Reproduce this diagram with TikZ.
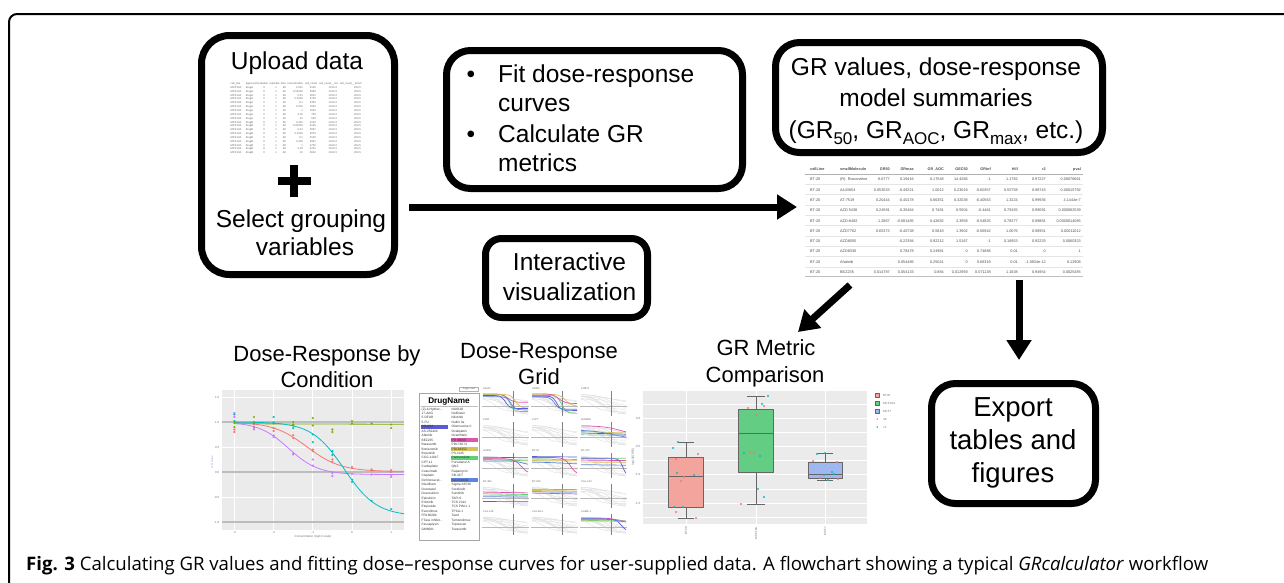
\documentclass[tikz,border=0pt]{standalone}
\usepackage{fontspec}
\setmainfont{Liberation Sans}
\newfontfamily\capfont{Open Sans}
\usetikzlibrary{arrows.meta}
\definecolor{ggred}{HTML}{F8766D}
\definecolor{ggolive}{HTML}{7CAE00}
\definecolor{ggcyan}{HTML}{00BFC4}
\definecolor{ggpurple}{HTML}{C77CFF}
\definecolor{panelgray}{HTML}{EBEBEB}
\definecolor{refline}{HTML}{BDBDBD}
\definecolor{hlblue}{HTML}{5B5BD6}
\definecolor{hlpink}{HTML}{DD55AE}
\definecolor{hlyellow}{HTML}{D6C357}
\definecolor{hlgreen}{HTML}{5CD274}
\definecolor{hlblue2}{HTML}{5C85E3}
\definecolor{boxpink}{HTML}{F3A49D}
\definecolor{boxgreen}{HTML}{63CD83}
\definecolor{boxblue}{HTML}{9FB8F2}
\definecolor{axlab}{HTML}{9DA7E8}
\newcommand\bxf{\fontsize{24.5}{29.5}\selectfont}
\newcommand\exf{\fontsize{27.5}{33}\selectfont}
\newcommand\ttlf{\fontsize{22}{26}\selectfont}
\newcommand\sbs[1]{\raisebox{-0.28em}{\fontsize{17}{17}\selectfont #1}}
\newcommand\tblf{\fontsize{3.8}{4.5}\selectfont}
\newcommand\upf{\fontsize{2.7}{3}\selectfont}
\newcommand\axf{\fontsize{3}{3.5}\selectfont}
\newcommand\drf{\fontsize{3.2}{3.6}\selectfont}
\newcommand\trdots{...}
\newcommand\gpanel[5]{%
  \foreach \pa/\pb/\pc/\pk in {0.15/0.75/0.35/8,0.2/0.9/0.5/9,0.1/0.6/0.6/7,0.25/0.85/0.25/9,0.2/0.5/0.8/6,0.15/0.95/0.45/9,0.3/0.7/0.7/8,0.1/0.4/0.55/5,0.2/1.0/0.65/9,0.25/0.65/0.4/6}{%
    \draw[gcurve] plot[domain=0:1,samples=14,variable=\t] ({#2+1+45*\t},{#3+5+(#4-6)*(\pa+(\pb-\pa)/(1+exp(min(9,max(-9,-\pk*(\t-\pc))))))});}
  \draw[black!28, line width=0.5pt] (#2,{#3+5+0.62*(#4-6)}) -- (#2+47,{#3+5+0.62*(#4-6)});
  \draw[black!50, line width=0.5pt] (#2+31,#3+4) -- (#2+31,#3+#4);
  \node[anchor=north west, inner sep=0pt, font=\fontsize{2.6}{3}\selectfont, text=black!60] (#1) at (#2+1,#3+0.8) {#5};
}
\newcommand\gsig[8]{\draw[#1, line width=0.7pt] plot[domain=0:1,samples=24,variable=\t] ({#2+1+45*\t},{#3+5+(#4-6)*(#5+(#6-#5)/(1+exp(min(9,max(-9,-#8*(\t-#7))))))});}
\tikzset{
  fbox/.style={draw, line width=7pt, rounded corners=#1, inner sep=0pt},
  fbox/.default=24pt,
  bigarrow/.style={line width=7pt, -{Triangle[length=20pt,width=24pt]}},
  txt/.style={anchor=base, inner sep=0pt},
  gcurve/.style={line width=0.4pt, draw=black!13},
  ticklbl/.style={inner sep=0pt, font=\axf, text=black!55},
}
\begin{document}
\begin{tikzpicture}[x=1pt, y=-1pt, line join=round]
\useasboundingbox (0,0) rectangle (1284,582);
% outer frame
\draw[line width=2pt, rounded corners=8pt] (9,600) -- (9,14) -- (1300,14);

% ---------- Box 1: upload ----------
\node[fbox=28pt, minimum width=193pt, minimum height=239pt] (upload) at (298,155) {};
\node[txt, font=\bxf] (upl1) at (297,69) {Upload data};
\node[inner sep=0pt, minimum width=135pt, minimum height=72pt] (uptbl) at (297.5,120) {};
\foreach \h/\xx in {cell\_line/230.5, agent/245.7, perturbation/253.5, replicate/269.3, time/280.6, concentration/286.8, cell\_count/304.8, cell\_count\_\_ctrl/318.8, cell\_count\_\_time0/339.6}
  \node[anchor=base west, inner sep=0pt, font=\upf, text=black!60] (uph\xx) at (\xx,84.5) {\h};
\foreach \conc/\cnt [count=\i] in {0.001/3100, 0.00316/3095, 0.01/3001, 0.0316/2790, 0.1/2305, 0.316/1520, 1/1003, 3.16/745, 10/520, 0.001/3150, 0.00316/3125, 0.01/3067, 0.0316/3075, 0.1/3130, 0.316/2967, 1/2750, 3.16/2731, 10/2622}{
  \pgfmathsetmacro\yy{84.5+3.85*\i}
  \pgfmathparse{\i<10 ? "drugA" : "drugB"}\let\ag\pgfmathresult
  \node[anchor=base west, inner sep=0pt, font=\upf, text=black!60] (upa\i) at (230.5,\yy) {MCF10A};
  \node[anchor=base west, inner sep=0pt, font=\upf, text=black!60] (upb\i) at (245.7,\yy) {\ag};
  \node[anchor=base east, inner sep=0pt, font=\upf, text=black!60] (upc\i) at (265,\yy) {0};
  \node[anchor=base east, inner sep=0pt, font=\upf, text=black!60] (upd\i) at (277,\yy) {1};
  \node[anchor=base east, inner sep=0pt, font=\upf, text=black!60] (upe\i) at (286,\yy) {48};
  \node[anchor=base east, inner sep=0pt, font=\upf, text=black!60] (upf\i) at (303,\yy) {\conc};
  \node[anchor=base east, inner sep=0pt, font=\upf, text=black!60] (upg\i) at (316,\yy) {\cnt};
  \node[anchor=base east, inner sep=0pt, font=\upf, text=black!60] (uph\i) at (337,\yy) {1013.3};
  \node[anchor=base east, inner sep=0pt, font=\upf, text=black!60] (upi\i) at (361,\yy) {204.5};
}
\draw[line width=7.5pt] (278,181) -- (311,181);
\draw[line width=7.5pt] (294,164.5) -- (294,197);
\node[txt, font=\bxf] (upl2) at (301,227) {Select grouping};
\node[txt, font=\bxf] (upl3) at (305,255) {variables};

% ---------- Box 2: fit ----------
\node[fbox, minimum width=296pt, minimum height=138pt] (fit) at (594.5,119.5) {};
\node[txt, font=\bxf] (b1) at (471,82) {•};
\node[txt, font=\bxf] (b2) at (471,142) {•};
\node[anchor=base west, inner sep=0pt, font=\bxf] (f1) at (498,82) {Fit dose-response};
\node[anchor=base west, inner sep=0pt, font=\bxf] (f2) at (498,111.5) {curves};
\node[anchor=base west, inner sep=0pt, font=\bxf] (f3) at (498,142) {Calculate GR};
\node[anchor=base west, inner sep=0pt, font=\bxf] (f4) at (498,171) {metrics};

% ---------- Box 3: interactive ----------
\node[fbox=16pt, minimum width=162pt, minimum height=79pt] (inter) at (566.5,278) {};
\node[txt, font=\bxf] (i1) at (569.5,270) {Interactive};
\node[txt, font=\bxf] (i2) at (569.5,300) {visualization};

% ---------- Box 4: GR values ----------
\node[fbox, minimum width=327pt, minimum height=110pt] (grv) at (939,97.5) {};
\node[txt, font=\bxf] (g1) at (936,75) {GR values, dose-response};
\node[txt, font=\bxf] (g2) at (936,106) {model summaries};
\node[txt, font=\bxf] (g3) at (936,138) {(GR\sbs{50}, GR\sbs{AOC}, GR\sbs{max}, etc.)};

% ---------- results table ----------
\node[inner sep=0pt, minimum width=276pt, minimum height=112pt] (tbl) at (945,221) {};
\draw[black!30, line width=0.6pt] (805,174) -- (1083,174);
\foreach \k in {1,...,9} \draw[black!10, line width=0.4pt] (805,{174+10.3*\k}) -- (1083,{174+10.3*\k});
\draw[black!25, line width=0.6pt] (805,276.5) -- (1083,276.5);
\foreach \h/\xx/\an [count=\j] in {cellLine/810/west, smallMolecule/840/west, GR50/890/east, GRmax/914/east, GR\_AOC/944/east, GEC50/968/east, GRinf/991/east, Hill/1018/east, r2/1046/east, pval/1081/east}
  \node[anchor=base \an, inner sep=0pt, font=\tblf\bfseries, text=black!70] (th\j) at (\xx,170.5) {\h};
\foreach \ca/\cb/\cc/\cd/\ce/\cf/\cg/\ch/\ci/\cj [count=\i] in {
  BT-20/(R)- Roscovitine/8.6777/0.19416/0.17548/14.4266/-1/1.1782/0.97227/0.00076661,
  BT-20/A443654/0.053033/-0.49221/1.0012/0.23019/-0.60357/0.55758/0.98743/0.00015792,
  BT-20/AT-7519/0.20444/-0.40178/0.86351/0.32038/-0.40563/1.3224/0.99936/4.1444e-7,
  BT-20/AZD 5438/0.24591/-0.35464/0.7481/0.5504/-0.4461/0.79155/0.99091/0.000082539,
  BT-20/AZD-6482/1.2867/-0.081485/0.42682/3.3958/-0.54825/0.78277/0.99881/0.0000014085,
  BT-20/AZD7762/0.65373/-0.40738/0.5818/1.3902/-0.56942/1.0076/0.98951/0.00011012,
  BT-20/AZD8055/ /-0.22394/0.92212/1.5167/-1/0.16953/0.92233/0.0060323,
  BT-20/AZD8330/ /0.78478/0.24981/0/0.74888/0.01/0/1,
  BT-20/Afatinib/ /0.054486/0.25041/0/0.68319/0.01/-1.0834e-12/0.12908,
  BT-20/BEZ235/0.014787/0.054133/0.884/0.012959/0.071138/1.1638/0.94954/0.0025485}{
  \pgfmathsetmacro\yy{170.5+10.3*\i}
  \node[anchor=base west, inner sep=0pt, font=\tblf, text=black!70] (ta\i) at (810,\yy) {\ca};
  \node[anchor=base west, inner sep=0pt, font=\tblf, text=black!70] (tb\i) at (840,\yy) {\cb};
  \node[anchor=base east, inner sep=0pt, font=\tblf, text=black!70] (tc\i) at (890,\yy) {\cc};
  \node[anchor=base east, inner sep=0pt, font=\tblf, text=black!70] (td\i) at (914,\yy) {\cd};
  \node[anchor=base east, inner sep=0pt, font=\tblf, text=black!70] (te\i) at (944,\yy) {\ce};
  \node[anchor=base east, inner sep=0pt, font=\tblf, text=black!70] (tf\i) at (968,\yy) {\cf};
  \node[anchor=base east, inner sep=0pt, font=\tblf, text=black!70] (tg\i) at (991,\yy) {\cg};
  \node[anchor=base east, inner sep=0pt, font=\tblf, text=black!70] (tq\i) at (1018,\yy) {\ch};
  \node[anchor=base east, inner sep=0pt, font=\tblf, text=black!70] (tr\i) at (1046,\yy) {\ci};
  \node[anchor=base east, inner sep=0pt, font=\tblf, text=black!70] (ts\i) at (1081,\yy) {\cj};
}

% ---------- Export box ----------
\node[fbox, minimum width=164pt, minimum height=120pt] (export) at (1013.5,443.5) {};
\node[txt, font=\exf] (e1) at (1013,416) {Export};
\node[txt, font=\exf] (e2) at (1013,449) {tables and};
\node[txt, font=\exf] (e3) at (1013,482) {figures};

% ---------- arrows ----------
\coordinate (m1) at (409,207);
\coordinate (m2) at (797,207);
\coordinate (d1) at (850,285);
\coordinate (d2) at (798,332);
\coordinate (v1) at (1019,280);
\coordinate (v2) at (1019,360);
\draw[bigarrow] (m1) -- (m2);
\draw[bigarrow] (d1) -- (d2);
\draw[bigarrow] (v1) -- (v2);

% ---------- titles ----------
\node[txt, font=\ttlf] (p1t1) at (327,361) {Dose-Response by};
\node[txt, font=\ttlf] (p1t2) at (327,387) {Condition};
\node[txt, font=\ttlf] (p2t1) at (539,358) {Dose-Response};
\node[txt, font=\ttlf] (p2t2) at (539,384) {Grid};
\node[txt, font=\ttlf] (p3t1) at (766,355) {GR Metric};
\node[txt, font=\ttlf] (p3t2) at (765,382) {Comparison};

% ---------- Plot 1: dose-response by condition ----------
\fill[panelgray] (222,390) rectangle (404,530);
\foreach \yy in {397,447,497} \draw[white, line width=0.8pt] (222,\yy) -- (404,\yy);
\foreach \xx in {234.4,273.6,312.8,352,391.2} \draw[white, line width=0.8pt] (\xx,390) -- (\xx,530);
\foreach \yy in {422,472,522} \draw[refline, line width=2.2pt] (222,\yy) -- (404,\yy);
\begin{scope}[shift={(352,472)}, x=39.2pt, y=50pt]
  \draw[ggolive, line width=0.8pt] (-3,0.965) -- (1.33,0.955);
  \draw[ggred, line width=0.8pt] plot[domain=-3:1.33, samples=50] (\x, {0.01+0.99/(1+exp(2.302585*1.01*(\x+1.15)))});
  \draw[ggpurple, line width=0.8pt] plot[domain=-3:1.33, samples=50] (\x, {-0.05+1.05/(1+exp(2.302585*1.15*(\x+1.62)))});
  \draw[ggcyan, line width=0.8pt] plot[domain=-3:1.33, samples=60] (\x, {-0.88+1.88/(1+exp(2.302585*1.05*(\x+0.2)))});
  \foreach \px/\py in {-3/0.98,-3/0.9,-2.5/1.1,-2.5/1.0,-2/0.97,-1.5/1.0,-1.5/0.95,-1/1.08,-1/0.93,-0.5/0.85,-0.5/0.8,0/1.02,0/0.97,0.5/0.97,1/0.95,1/0.88}
    \fill[ggolive] (\px,\py) circle (1.2pt);
  \foreach \px/\py in {-3/0.85,-3/0.8,-2.5/0.95,-2.5/0.9,-2/0.88,-2/0.82,-1.5/0.74,-1.5/0.68,-1/0.42,-1/0.45,-0.5/0.2,-0.5/0.25,0/0.08,0/0.1,0.5/0.03,0.5/0.05,1/0.04,1/0.0}
    \fill[ggred] (\px,\py) circle (1.2pt);
  \foreach \px/\py in {-3/1.18,-3/1.1,-2.5/0.88,-2.5/0.85,-2/0.73,-2/0.7,-1.5/0.37,-1.5/0.35,-1/0.13,-1/0.25,-0.5/-0.02,-0.5/-0.08,0/-0.04,0.5/-0.05,1/-0.06,1/-0.1}
    \fill[ggpurple] (\px,\py) circle (1.2pt);
  \foreach \px/\py in {-3/1.02,-3/1.15,-2.5/0.97,-2/1.1,-2/0.99,-1.5/0.93,-1.5/0.88,-1/0.75,-1/0.6,-0.5/0.34,-0.5/0.42,0/-0.15,0/-0.2,0.5/-0.58,1/-0.74}
    \fill[ggcyan] (\px,\py) circle (1.2pt);
\end{scope}
\foreach \lb/\yy [count=\j] in {1.5/397,1.0/422,0.5/447,0.0/472,-0.5/497,-1.0/522}
  \node[ticklbl, anchor=east] (p1y\j) at (219.5,\yy) {\lb};
\foreach \lb/\xx [count=\j] in {-3/234.4,-2/273.6,-1/312.8,0/352,1/391.2}
  \node[ticklbl, anchor=north] (p1x\j) at (\xx,531.5) {\lb};
\node[ticklbl, anchor=north] (p1xl) at (313,535.5) {Concentration (log10 scale)};
\node[ticklbl, rotate=90, text=axlab] (p1yl) at (212,462) {GR value};

% ---------- Plot 2: dose-response grid ----------
\draw[black!35, line width=0.5pt] (419,393) rectangle (479,540);
\node[txt, font=\fontsize{8.2}{9}\selectfont\bfseries] (dnh) at (449,403) {DrugName};
\draw[black!25, line width=0.4pt] (420.5,406) -- (477.5,406);
\fill[hlblue] (420.5,{410+4*4.45-3.2}) rectangle (447.5,{410+4*4.45+1});
\fill[hlpink] (450.5,{410+7*4.45-3.2}) rectangle (478,{410+7*4.45+1});
\fill[hlyellow] (450.5,{410+9*4.45-3.2}) rectangle (478,{410+9*4.45+1});
\fill[hlgreen] (450.5,{410+11*4.45-3.2}) rectangle (478,{410+11*4.45+1});
\fill[hlblue2] (450.5,{410+16*4.45-3.2}) rectangle (478,{410+16*4.45+1});
\foreach \n [count=\i] in {{(Z)-4-Hydrox\trdots},17-AAG,5-DFUR,5-FU,AG1024,AS-252424,Afatinib,BEZ235,Barasertib,Bortezomib,Bosutinib,CGC-11047,CPT-11,Carboplatin,Cetuximab,Cisplatin,{Dichloroacet\trdots},Disulfiram,Docetaxel,Doxorubicin,Epirubicin,Erlotinib,Etoposide,Everolimus,FR180204,{FTase inhibit\trdots},Fascaplysin,GM6001}
  \node[anchor=base west, inner sep=0pt, font=\drf, text=black!80] (dra\i) at (421.5,{410+(\i-1)*4.45}) {\n};
\foreach \n [count=\i] in {NU6102,Nelfinavir,Nilotinib,Nutlin 3a,Olomoucine II,Oxaliplatin,Oxamflatin,PD 98059,PD173074,PD184352,PS-1145,Parthenolide,Purvalanol A,QNZ,Rapamycin,SB-3CT,Selumetinib,Sigma A6730,Sorafenib,Sunitinib,TAPI-0,TCS 2312,TCS PIM-1 1,TPCA-1,Taxol,Temsirolimus,Topotecan,Tozasertib}
  \node[anchor=base west, inner sep=0pt, font=\drf, text=black!80] (drb\i) at (451.5,{410+(\i-1)*4.45}) {\n};
\draw[black!30, line width=0.3pt] (459,386.8) rectangle (478.5,391.3);
\node[inner sep=0pt, font=\fontsize{2.4}{2.6}\selectfont, text=black!60] (tog) at (468.8,389) {Toggle view};
\gpanel{gp11}{482}{387}{29}{184A1}
\gpanel{gp12}{531}{387}{29}{184B5}
\gpanel{gp13}{580}{387}{29}{21MT1}
\gpanel{gp21}{482}{418}{29}{21NT}
\gpanel{gp22}{531}{418}{29}{21PT}
\gpanel{gp23}{580}{418}{29}{600MPE}
\gpanel{gp31}{482}{449}{29}{AU565}
\gpanel{gp32}{531}{449}{29}{BT-20}
\gpanel{gp33}{580}{449}{29}{BT-474}
\gpanel{gp41}{482}{480}{28}{BT-483}
\gpanel{gp42}{531}{480}{28}{BT-549}
\gpanel{gp43}{580}{480}{28}{CAL-120}
\gpanel{gp51}{482}{510}{25}{CAL-148}
\gpanel{gp52}{531}{510}{25}{CAL-85-1}
\gpanel{gp53}{580}{510}{25}{CAMA-1}
% colored curves
\gsig{hlgreen}{482}{387}{29}{0.12}{0.85}{0.6}{22}
\gsig{hlpink}{482}{387}{29}{0.08}{0.45}{0.55}{15}
\gsig{hlyellow}{482}{387}{29}{0.1}{0.7}{0.72}{18}
\gsig{hlblue}{482}{387}{29}{0.15}{0.72}{0.5}{20}
\gsig{hlblue2}{482}{387}{29}{0.2}{0.78}{0.62}{20}
\gsig{hlgreen}{531}{387}{29}{0.15}{0.92}{0.66}{20}
\gsig{hlblue}{531}{387}{29}{0.18}{0.8}{0.55}{22}
\gsig{hlyellow}{531}{387}{29}{0.1}{0.62}{0.75}{15}
\gsig{hlpink}{531}{387}{29}{0.08}{0.5}{0.6}{14}
\gsig{hlblue2}{531}{387}{29}{0.22}{0.75}{0.5}{20}
\gsig{hlyellow}{580}{418}{29}{0.35}{0.45}{0.5}{3}
\gsig{hlpink}{580}{418}{29}{0.12}{0.55}{0.9}{5}
\gsig{hlblue2}{580}{418}{29}{0.3}{0.7}{0.7}{4}
\gsig{hlgreen}{580}{418}{29}{0.5}{0.55}{0.5}{2}
\gsig{hlblue}{580}{418}{29}{0.42}{0.5}{0.5}{3}
\gsig{hlblue}{482}{449}{29}{0.12}{0.18}{0.5}{2}
\gsig{hlgreen}{482}{449}{29}{0.22}{0.32}{0.6}{3}
\gsig{hlyellow}{482}{449}{29}{0.18}{0.28}{0.5}{3}
\gsig{hlpink}{482}{449}{29}{0.2}{0.88}{0.85}{12}
\gsig{hlblue2}{482}{449}{29}{0.3}{0.5}{0.9}{10}
\gsig{hlblue}{531}{449}{29}{0.1}{0.14}{0.5}{2}
\gsig{hlgreen}{531}{449}{29}{0.2}{0.25}{0.5}{2}
\gsig{hlyellow}{531}{449}{29}{0.28}{0.3}{0.5}{2}
\gsig{hlpink}{531}{449}{29}{0.15}{0.92}{0.86}{14}
\gsig{hlblue2}{531}{449}{29}{0.35}{0.45}{0.7}{4}
\gsig{hlgreen}{580}{449}{29}{0.15}{0.2}{0.5}{2}
\gsig{hlpink}{580}{449}{29}{0.25}{0.3}{0.5}{2}
\gsig{hlblue}{580}{449}{29}{0.2}{0.95}{0.93}{25}
\gsig{hlblue2}{580}{449}{29}{0.45}{0.5}{0.5}{2}
\gsig{hlyellow}{580}{449}{29}{0.35}{0.36}{0.5}{2}
\gsig{hlpink}{482}{480}{28}{0.3}{0.38}{0.5}{2}
\gsig{hlgreen}{482}{480}{28}{0.38}{0.45}{0.5}{2}
\gsig{hlyellow}{482}{480}{28}{0.45}{0.5}{0.5}{2}
\gsig{hlblue2}{482}{480}{28}{0.52}{0.56}{0.5}{2}
\gsig{hlblue}{482}{480}{28}{0.75}{0.76}{0.5}{2}
\gsig{hlgreen}{531}{480}{28}{0.18}{0.22}{0.5}{2}
\gsig{hlyellow}{531}{480}{28}{0.24}{0.28}{0.5}{2}
\gsig{hlblue2}{531}{480}{28}{0.3}{0.33}{0.5}{2}
\gsig{hlpink}{531}{480}{28}{0.36}{0.42}{0.6}{3}
\gsig{hlpink}{580}{510}{25}{0.15}{0.35}{0.8}{8}
\gsig{hlgreen}{580}{510}{25}{0.25}{0.35}{0.5}{2}
\gsig{hlblue}{580}{510}{25}{0.2}{0.9}{0.9}{15}
\gsig{hlyellow}{580}{510}{25}{0.3}{0.34}{0.5}{2}
\gsig{hlblue2}{580}{510}{25}{0.22}{0.4}{0.85}{10}

% ---------- Plot 3: GR metric comparison ----------
\fill[panelgray] (643,391) rectangle (867,524);
\foreach \yy in {404,432,460,489,517} \draw[white, line width=0.35pt] (643,\yy) -- (867,\yy);
\foreach \yy in {418,446,474,503} \draw[white, line width=0.8pt] (643,\yy) -- (867,\yy);
\foreach \xx in {686,756,825} \draw[white, line width=0.8pt] (\xx,391) -- (\xx,524);
\begin{scope}[black!60, line width=0.8pt]
  \draw (686,442) -- (686,518) (678,442) -- (694,442) (678,518) -- (694,518);
  \filldraw[fill=boxpink] (668,457) rectangle (703,507);
  \draw[line width=1pt] (668,476) -- (703,476);
  \draw (756,396) -- (756,504) (747,396) -- (765,396) (747,504) -- (765,504);
  \filldraw[fill=boxgreen] (738,409) rectangle (773,472);
  \draw[line width=1pt] (738,433) -- (773,433);
  \draw (825,453) -- (825,480) (817,453) -- (833,453) (817,480) -- (833,480);
  \filldraw[fill=boxblue] (808,462) rectangle (842,478);
  \draw[line width=1pt] (808,474) -- (842,474);
\end{scope}
\foreach \px/\py in {678/442,673/448,677/473,694/475,674/507,683/507,762/404,744/453,760/456,758/489,764/497,768/396,817/454,825/453,832/472,834/474,828/480,824/475}
  \fill[ggcyan] (\px,\py) circle (1.2pt);
\foreach \px/\py in {698/454,676/459,684/477,681/481,676/512,696/518,748/408,756/415,750/452,754/453,741/504,764/406,813/461,837/462,820/478,838/479}
  \fill[ggred] (\px,\py) circle (1.2pt);
\foreach \lb/\yy [count=\j] in {0.0/418,-0.5/446,-1.0/474,-1.5/503}
  \node[ticklbl, anchor=east] (p3y\j) at (640.5,\yy) {\lb};
\node[ticklbl, rotate=90] (p3yl) at (633,457) {log10(GR50)};
\foreach \lb/\xx [count=\j] in {BT20/686,MCF10A/756,MCF7/825}
  \node[ticklbl, rotate=90, anchor=east] (p3x\j) at (\xx,527) {\lb};
\filldraw[fill=boxpink, draw=black!60, line width=0.4pt] (875,393) rectangle (879.5,397.5);
\filldraw[fill=boxgreen, draw=black!60, line width=0.4pt] (875,401) rectangle (879.5,405.5);
\filldraw[fill=boxblue, draw=black!60, line width=0.4pt] (875,409) rectangle (879.5,413.5);
\fill[ggred] (877.2,419) circle (0.8pt);
\fill[ggcyan] (877.2,427) circle (0.8pt);
\foreach \lb/\yy [count=\j] in {BT20/395.2,MCF10A/403.2,MCF7/411.2,48/419,72/427}
  \node[ticklbl, anchor=west] (leg\j) at (883,\yy) {\lb};

% ---------- caption ----------
\node[anchor=base west, inner sep=0pt] (caption) at (26,570) {\resizebox{1182pt}{!}{\capfont\fontsize{18}{20}\selectfont\textbf{Fig. 3} Calculating GR values and fitting dose–response curves for user-supplied data. A flowchart showing a typical \textit{GRcalculator} workflow}};
\end{tikzpicture}
\end{document}
